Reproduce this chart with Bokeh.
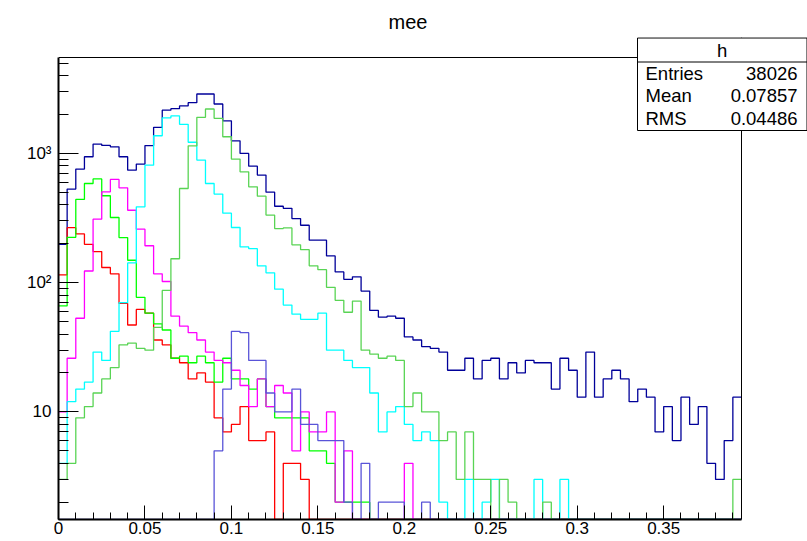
import math
from bokeh.plotting import figure
from bokeh.models import Range1d, FixedTicker, CustomJSTickFormatter, BoxAnnotation, Label, Span
from bokeh.embed import file_html
from bokeh.resources import INLINE

# ---- binning of the mee histograms: 79 bins of 0.005 starting at 0 ----
BIN_WIDTH = 0.005
N_BINS = 79
edges = [round(i * BIN_WIDTH, 3) for i in range(N_BINS + 1)]

# ---- bin contents, one list per component ----
total = [198, 530, 756, 942, 1180, 1153, 1125, 942, 742, 826,
         1150, 1591, 2160, 2220, 2330, 2470, 2880, 2880, 2410, 1785,
         1252, 1000, 797, 679, 501, 390, 376, 313, 278, 213,
         213, 161, 121, 106, 111, 86, 61, 54, 55, 53,
         38, 36, 32, 31, 29, 21, 21, 26, 18, 25,
         26, 18, 24, 20, 25, 24, 24, 15, 26, 21,
         13, 29, 13, 18, 21, 18, 12, 15, 13, 7,
         11, 6, 13, 8, 11, 4, 3, 6, 13]

red = [115, 266, 238, 198, 174, 131, 117, 69, 47, 62,
       58, 36, 33, 26, 24, 18, 20, 17, 9, 7,
       8, 11, 6, 6, 7, 0, 4, 4, 3, 0,
       0, 0, 0, 0, 0, 0, 0, 0, 0, 0,
       0, 0, 0, 0, 0, 0, 0, 0, 0, 0,
       0, 0, 0, 0, 0, 0, 0, 0, 0, 0,
       0, 0, 0, 0, 0, 0, 0, 0, 0, 0,
       0, 0, 0, 0, 0, 0, 0, 0, 0]

green = [66, 224, 440, 585, 634, 470, 319, 223, 149, 77,
         58, 48, 43, 26, 27, 24, 27, 24, 17, 26,
         18, 18, 15, 18, 11, 9, 9, 9, 9, 5,
         5, 4, 2, 2, 2, 2, 0, 0, 0, 0,
         0, 0, 0, 0, 0, 0, 0, 0, 0, 0,
         0, 0, 0, 0, 0, 0, 0, 0, 0, 0,
         0, 0, 0, 0, 0, 0, 0, 0, 0, 0,
         0, 0, 0, 0, 0, 0, 0, 0, 0]

magenta = [10, 26, 53, 123, 310, 504, 629, 541, 363, 259,
           193, 117, 102, 55, 46, 41, 36, 29, 25, 24,
           21, 16, 11, 18, 11, 16, 14, 5, 10, 7,
           7, 10, 2, 5, 0, 0, 0, 0, 0, 0,
           4, 0, 0, 0, 0, 0, 0, 0, 0, 0,
           0, 0, 0, 0, 0, 0, 0, 0, 0, 0,
           0, 0, 0, 0, 0, 0, 0, 0, 0, 0,
           0, 0, 0, 0, 0, 0, 0, 0, 0]

cyan = [4, 12, 15, 17, 29, 25, 42, 70, 142, 386,
        811, 1369, 1880, 1950, 1677, 1220, 887, 585, 484, 345,
        267, 189, 183, 135, 119, 89, 67, 57, 52, 52,
        58, 30, 30, 25, 22, 22, 14, 7, 10, 11,
        8, 6, 7, 6, 2, 0, 0, 3, 0, 2,
        3, 0, 0, 0, 0, 3, 0, 0, 3, 0,
        0, 0, 0, 0, 0, 0, 0, 0, 0, 0,
        0, 0, 0, 0, 0, 0, 0, 0, 0]

lightgreen = [3, 4, 9, 11, 14, 18, 22, 33, 34, 31,
              30, 45, 87, 153, 535, 1145, 1900, 2205, 1868, 1345,
              903, 720, 551, 467, 333, 262, 265, 196, 180, 135,
              126, 92, 73, 59, 72, 30, 28, 26, 27, 25,
              11, 14, 10, 10, 6, 7, 3, 7, 3, 3,
              0, 3, 2, 0, 0, 0, 2, 0, 0, 0,
              0, 0, 0, 0, 0, 0, 0, 0, 0, 0,
              0, 0, 0, 0, 0, 0, 0, 0, 3]

violet = [0, 0, 0, 0, 0, 0, 0, 0, 0, 0,
          0, 0, 0, 0, 0, 0, 0, 0, 5, 15,
          42, 41, 25, 25, 14, 10, 10, 15, 8, 8,
          6, 6, 6, 2, 0, 4, 0, 2, 2, 2,
          0, 0, 2, 0, 0, 0, 0, 0, 0, 0,
          0, 0, 0, 0, 0, 0, 0, 0, 0, 0,
          0, 0, 0, 0, 0, 0, 0, 0, 0, 0,
          0, 0, 0, 0, 0, 0, 0, 0, 0]

# statistics of the total histogram
stat_name = "h"
stat_entries = "38026"
stat_mean = "0.07857"
stat_rms = "0.04486"

x_major = [0, 0.05, 0.1, 0.15, 0.2, 0.25, 0.3, 0.35]
y_major = [10, 100, 1000]
y_labels = {10: "10", 100: "10\u00b2", 1000: "10\u00b3"}

Y_MIN, Y_MAX = 1.47, 5520
FONT = "Liberation Sans"

# canvas and histogram frame, in pixels
W, H = 807, 541
FL, FR, FT, FB = 58, 741, 57, 519
PAD_TOP = 37            # the plotting area reaches up/right to hold the stats box

# extend the ranges so the histogram frame sits at FR / FT while the
# drawable area also covers the stats box in the top-right corner
X_END = edges[-1] * (W - FL) / (FR - FL)
px_per_decade = (FB - FT) / math.log10(Y_MAX / Y_MIN)
Y_END = Y_MAX * 10 ** ((FT - PAD_TOP) / px_per_decade)

p = figure(width=W, height=H,
           x_range=Range1d(0, X_END), y_range=Range1d(Y_MIN, Y_END),
           y_axis_type="log", output_backend="svg", toolbar_location=None,
           min_border_left=FL, min_border_right=0,
           min_border_top=PAD_TOP, min_border_bottom=H - FB)

p.background_fill_color = "white"
p.border_fill_color = "white"
p.outline_line_color = None
p.xgrid.grid_line_color = None
p.ygrid.grid_line_color = None

p.title.text = "mee"
p.title.align = "left"
p.title.offset = 330
p.title.text_font = FONT
p.title.text_font_style = "normal"
p.title.text_font_size = "20px"
p.title.text_color = "black"
p.title.standoff = 10


def outline(counts):
    # empty bins are drawn along the bottom of the frame, as for a log-scale histogram
    ys = [max(c, Y_MIN) for c in counts]
    return ys + [ys[-1]]


series = [
    (total, "#000099"),
    (red, "#ff0000"),
    (green, "#00ff00"),
    (magenta, "#ff00ff"),
    (cyan, "#00ffff"),
    (lightgreen, "#59d454"),
    (violet, "#5954d8"),
]
for counts, color in series:
    p.step(edges, outline(counts), mode="after", line_color=color, line_width=1.3)

# right and top edges of the histogram frame
p.add_layout(Span(location=edges[-1], dimension="height", line_color="black", line_width=1))
p.add_layout(Span(location=Y_MAX, dimension="width", line_color="black", line_width=1))

# axes: ticks pointing into the frame
xa, ya = p.xaxis[0], p.yaxis[0]
xa.bounds = (0, edges[-1])
ya.bounds = (Y_MIN, Y_MAX)
xa.ticker = FixedTicker(ticks=x_major, minor_ticks=[round(0.01 * i, 2) for i in range(40)])
xa.formatter = CustomJSTickFormatter(
    code="return tick.toFixed(2).replace(/0+$/, '').replace(/\\.$/, '');")
ya.ticker = FixedTicker(
    ticks=y_major,
    minor_ticks=[m * 10 ** e for e in range(0, 4) for m in range(1, 10) if Y_MIN <= m * 10 ** e <= Y_MAX])
ya.formatter = CustomJSTickFormatter(
    args=dict(labels={str(k): v for k, v in y_labels.items()}),
    code="return labels[String(Math.round(tick))] || '';")

for ax in (xa, ya):
    ax.axis_line_color = "black"
    ax.axis_line_width = 2
    ax.major_tick_line_color = "black"
    ax.minor_tick_line_color = "black"
    ax.major_tick_out = 0
    ax.minor_tick_out = 0
    ax.major_label_text_font = FONT
    ax.major_label_text_font_size = "17px"
    ax.major_label_text_color = "black"

xa.major_tick_in = 14
xa.minor_tick_in = 7
xa.major_label_standoff = 2
ya.major_tick_in = 20
ya.minor_tick_in = 10
ya.major_label_standoff = 7


# statistics box, placed in pixels relative to the plotting area
def sx(x):
    return x - FL


def sy(y):
    return FB - y


BOX_L, BOX_R, BOX_T, BOX_B, HEAD_B = 637, 806.5, 37.5, 130, 61.5
for top, bottom in ((BOX_T, BOX_B), (BOX_T, HEAD_B)):
    p.add_layout(BoxAnnotation(left=sx(BOX_L), right=sx(BOX_R), top=sy(top), bottom=sy(bottom),
                               left_units="screen", right_units="screen",
                               top_units="screen", bottom_units="screen",
                               fill_color="white", fill_alpha=1.0,
                               line_color="black", line_width=1, line_alpha=1.0))


def stat_text(text, x, y, align):
    p.add_layout(Label(x=sx(x), y=sy(y), x_units="screen", y_units="screen", text=text,
                       text_font=FONT, text_font_size="18.5px", text_color="black",
                       text_align=align, text_baseline="middle"))


stat_text(stat_name, (BOX_L + BOX_R) / 2, 49.5, "center")
rows = [("Entries", stat_entries), ("Mean", stat_mean), ("RMS", stat_rms)]
for i, (name, val) in enumerate(rows):
    y = 73 + 22.3 * i
    stat_text(name, 645, y, "left")
    stat_text(val, 797, y, "right")

open("out.html", "w").write(file_html(p, INLINE))
